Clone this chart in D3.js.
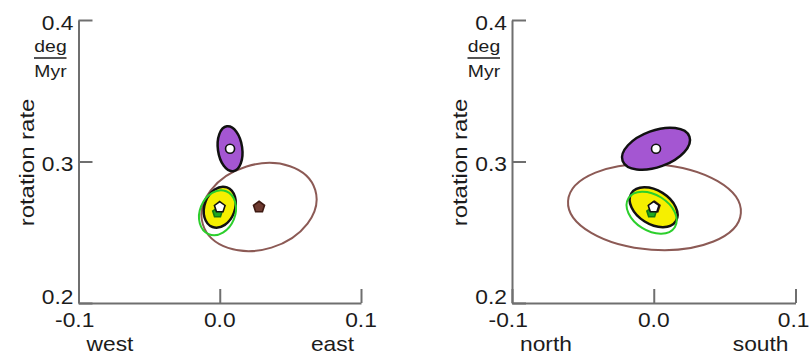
<!DOCTYPE html>
<html>
<head>
<meta charset="utf-8">
<script src="https://cdn.jsdelivr.net/npm/d3@7"></script>
<style>
  html, body { margin: 0; padding: 0; background: #fff; }
  svg { display: block; }
  text { font-family: "Liberation Sans", Arial, Helvetica, sans-serif; fill: #1c1c1c; }
</style>
</head>
<body>
<svg id="chart" width="810" height="355"></svg>
<script>
// Euler-vector solutions: rotation rate (deg/Myr) against the pole offsets
const solutions = ["modelA", "modelB", "modelC", "modelD"];
const rotationRate   = [0.3090, 0.2678, 0.2677, 0.2638];
const eastComponent  = [0.0073, 0.0278, 0.0000, -0.0016];
const southComponent = [0.0016, 0.0005, -0.0001, -0.0015];

// 1-sigma ellipses: semi-axes (deg/Myr) and tilt (degrees, counter-clockwise)
const eastSemiX  = [0.0086, 0.0416, 0.0108, 0.0125];
const eastSemiY  = [0.0160, 0.0300, 0.0149, 0.0164];
const eastTilt   = [8, 17, -20, -22];
const southSemiX = [0.0251, 0.0611, 0.0185, 0.0193];
const southSemiY = [0.0129, 0.0302, 0.0119, 0.0127];
const southTilt  = [20, -4, -32, -32];

// axis ticks
const xTicks = [-0.1, 0.0, 0.1];
const xTickLabels = ["-0.1", "0.0", "0.1"];
const yTicks = [0.2, 0.3, 0.4];
const yTickLabels = ["0.2", "0.3", "0.4"];

// appearance of each solution
const ellipseFill   = ["#a456d2", "none", "#f6ef00", "none"];
const ellipseStroke = ["#111111", "#8c5a55", "#111111", "#2ccf2c"];
const ellipseWidth  = [2.5, 2, 2.5, 2];
const ellipseOrder  = [1, 0, 2, 3];
const markerShape   = ["circle", "pentagon", "pentagon", "pentagon"];
const markerFill    = ["#ffffff", "#6e3a30", "#ffffff", "#20a820"];
const markerStroke  = ["#111111", "#3e1a12", "#111111", "#147814"];
const markerRadius  = [4.5, 5.8, 5.6, 5];
const markerOrder   = [1, 3, 2, 0];

const panels = [
  { comp: eastComponent,  sx: eastSemiX,  sy: eastSemiY,  tilt: eastTilt,
    words: ["west", "east"],   left: 78.5, right: 361 },
  { comp: southComponent, sx: southSemiX, sy: southSemiY, tilt: southTilt,
    words: ["north", "south"], left: 512,  right: 795.5 }
];

const width = 810, height = 355;
const plotTop = 20, plotBottom = 303;
const stretch = 1.14;          // wide-set lettering
const axisColor = "#6f6f6f";

const svg = d3.select("#chart");
svg.append("rect").attr("width", width).attr("height", height).attr("fill", "#fff");

const pentagon = {
  draw(ctx, size) {
    const r = Math.sqrt(size / 2.3776);
    for (let i = 0; i < 5; i++) {
      const a = -Math.PI / 2 + i * 2 * Math.PI / 5;
      const px = r * Math.cos(a), py = r * Math.sin(a);
      if (i === 0) ctx.moveTo(px, py); else ctx.lineTo(px, py);
    }
    ctx.closePath();
  }
};

function label(g, str, x, y, size, anchor, rot) {
  return g.append("text")
    .attr("transform", `translate(${x},${y}) rotate(${rot || 0}) scale(${stretch},1)`)
    .attr("text-anchor", anchor)
    .style("font-size", size + "px")
    .text(str);
}

function textWidth(g, str, size) {
  const probe = label(g, str, 0, 0, size, "start");
  const w = probe.node().getComputedTextLength() * stretch;
  probe.remove();
  return w;
}

panels.forEach(p => {
  const g = svg.append("g");
  const x = d3.scaleLinear().domain([-0.1, 0.1]).range([p.left, p.right]);
  const y = d3.scaleLinear().domain([0.2, 0.4]).range([plotBottom, plotTop]);

  // axes: ticks point into the plot
  const yAxis = g.append("g").attr("transform", `translate(${p.left},0)`)
    .call(d3.axisRight(y).tickValues(yTicks).tickSize(14).tickSizeOuter(0).tickFormat(""));
  const xAxis = g.append("g").attr("transform", `translate(0,${plotBottom})`)
    .call(d3.axisTop(x).tickValues(xTicks).tickSize(14).tickSizeOuter(0).tickFormat(""));
  [yAxis, xAxis].forEach(a => {
    a.selectAll("path, line").attr("stroke", axisColor).attr("stroke-width", 2);
  });

  // y tick labels (the lowest one sits above the x axis line)
  yTicks.forEach((v, i) => {
    const dy = i === 0 ? 0.5 : 9.5;
    label(g, yTickLabels[i], p.left - 5, y(v) + dy, 20, "end");
  });

  // x tick labels: the numeral is centred on the tick, a minus sign hangs left
  xTicks.forEach((v, i) => {
    const s = xTickLabels[i];
    const numeral = s.startsWith("-") ? s.slice(1) : s;
    const half = textWidth(g, numeral, 20) / 2;
    const end = Math.min(x(v) + half, width - 0.5);
    label(g, s, end, plotBottom + 24, 20, "end");
  });

  // direction words
  label(g, p.words[0], p.left + 8, 350.8, 20, "start");
  label(g, p.words[1], p.right - 7, 350.8, 20, "end");

  // y title and unit fraction
  label(g, "rotation rate", p.left - 45, 162.5, 21, "middle", -90);
  label(g, "deg", p.left - 28, 51.5, 17, "middle");
  g.append("line")
    .attr("x1", p.left - 44.5).attr("x2", p.left - 12)
    .attr("y1", 58).attr("y2", 58)
    .attr("stroke", "#555").attr("stroke-width", 2);
  label(g, "Myr", p.left - 28, 76.5, 17, "middle");

  // uncertainty ellipses
  ellipseOrder.forEach(i => {
    const cx = p.comp[i], cy = rotationRate[i];
    g.append("ellipse")
      .attr("transform", `translate(${x(cx)},${y(cy)}) rotate(${-p.tilt[i]})`)
      .attr("rx", x(cx + p.sx[i]) - x(cx))
      .attr("ry", y(cy) - y(cy + p.sy[i]))
      .attr("fill", ellipseFill[i])
      .attr("stroke", ellipseStroke[i])
      .attr("stroke-width", ellipseWidth[i]);
  });

  // best-fit markers
  markerOrder.forEach(i => {
    const r = markerRadius[i];
    const type = markerShape[i] === "circle" ? d3.symbolCircle : pentagon;
    const size = markerShape[i] === "circle" ? Math.PI * r * r : 2.3776 * r * r;
    g.append("path")
      .attr("d", d3.symbol().type(type).size(size)())
      .attr("transform", `translate(${x(p.comp[i])},${y(rotationRate[i])})`)
      .attr("fill", markerFill[i])
      .attr("stroke", markerStroke[i])
      .attr("stroke-width", 1.6);
  });
});
</script>
</body>
</html>
